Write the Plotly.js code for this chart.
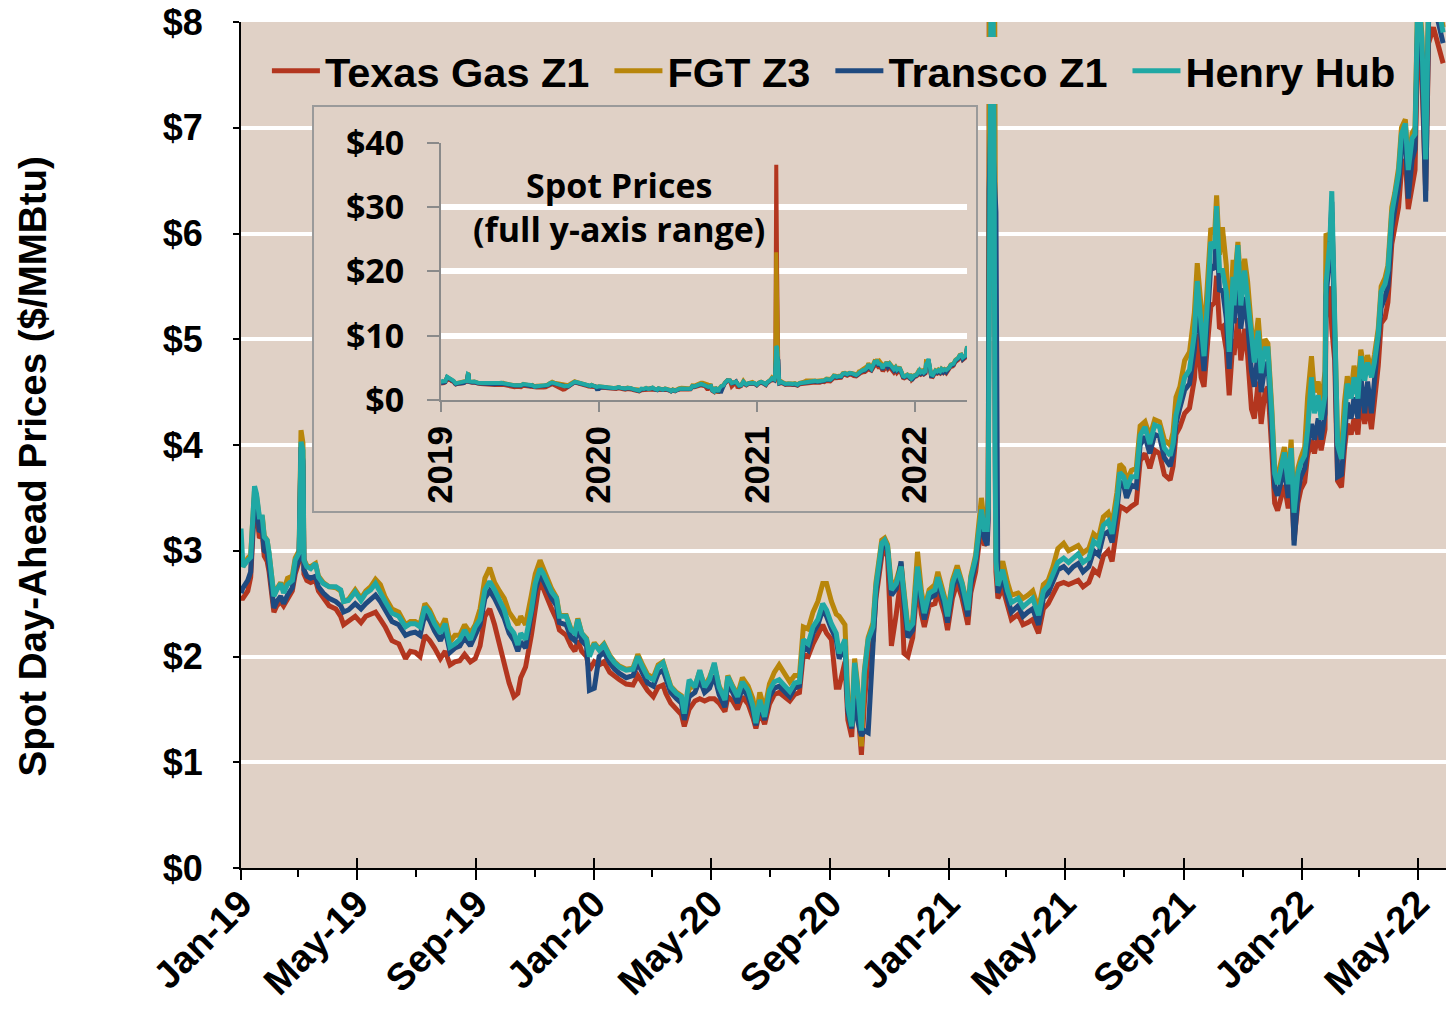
<!DOCTYPE html>
<html><head><meta charset="utf-8">
<script src="https://cdn.plot.ly/plotly-3.0.1.min.js"></script>
<style>html,body{margin:0;padding:0;background:#fff;}#chart{width:1446px;height:1011px;}</style>
</head><body><div id="chart"></div>
<script>
const dates = [
'2019-01-01','2019-01-03','2019-01-08','2019-01-11','2019-01-15','2019-01-17','2019-01-20','2019-01-23','2019-01-25','2019-01-28','2019-01-30',
'2019-02-02','2019-02-04','2019-02-07','2019-02-11','2019-02-14','2019-02-18','2019-02-23','2019-02-26',
'2019-03-02','2019-03-04','2019-03-06','2019-03-07','2019-03-10','2019-03-14','2019-03-19','2019-03-22','2019-03-27',
'2019-04-02','2019-04-09','2019-04-14','2019-04-17','2019-04-22','2019-04-29',
'2019-05-05','2019-05-10','2019-05-15','2019-05-20','2019-05-25','2019-05-30',
'2019-06-06','2019-06-13','2019-06-20','2019-06-25','2019-06-30',
'2019-07-05','2019-07-10','2019-07-15','2019-07-20','2019-07-26','2019-07-31',
'2019-08-05','2019-08-10','2019-08-15','2019-08-20','2019-08-26','2019-08-31',
'2019-09-05','2019-09-10','2019-09-15','2019-09-20','2019-09-25','2019-09-30',
'2019-10-05','2019-10-10','2019-10-14','2019-10-17','2019-10-22','2019-10-28',
'2019-11-01','2019-11-06','2019-11-09','2019-11-13','2019-11-18','2019-11-23','2019-11-26',
'2019-12-03','2019-12-08','2019-12-12','2019-12-15','2019-12-19','2019-12-24','2019-12-27',
'2020-01-01','2020-01-06','2020-01-11','2020-01-17','2020-01-22','2020-01-27',
'2020-02-03','2020-02-10','2020-02-15','2020-02-20','2020-02-25',
'2020-03-02','2020-03-07','2020-03-12','2020-03-15','2020-03-20','2020-03-26','2020-03-31',
'2020-04-03','2020-04-08','2020-04-14','2020-04-19','2020-04-24','2020-04-29',
'2020-05-04','2020-05-09','2020-05-15','2020-05-18','2020-05-23','2020-05-28',
'2020-06-02','2020-06-08','2020-06-13','2020-06-16','2020-06-20','2020-06-25','2020-06-30',
'2020-07-05','2020-07-10','2020-07-16','2020-07-21','2020-07-26','2020-07-31',
'2020-08-04','2020-08-09','2020-08-14','2020-08-19','2020-08-24','2020-08-28',
'2020-09-02','2020-09-07','2020-09-10','2020-09-16','2020-09-19','2020-09-23','2020-09-26','2020-09-29',
'2020-10-03','2020-10-06','2020-10-10','2020-10-15','2020-10-18','2020-10-24','2020-10-27','2020-10-30',
'2020-11-03','2020-11-08','2020-11-13','2020-11-16','2020-11-20','2020-11-25','2020-11-30',
'2020-12-04','2020-12-07','2020-12-12','2020-12-18','2020-12-21','2020-12-25','2020-12-28','2020-12-31',
'2021-01-05','2021-01-10','2021-01-15','2021-01-21','2021-01-24','2021-01-29',
'2021-02-01','2021-02-04','2021-02-07','2021-02-10','2021-02-11','2021-02-12','2021-02-14','2021-02-16','2021-02-17','2021-02-18','2021-02-19','2021-02-21','2021-02-26',
'2021-03-03','2021-03-07','2021-03-14','2021-03-19','2021-03-24','2021-03-29',
'2021-04-04','2021-04-09','2021-04-14','2021-04-19','2021-04-24','2021-04-30',
'2021-05-05','2021-05-10','2021-05-15','2021-05-20','2021-05-26','2021-05-31',
'2021-06-05','2021-06-10','2021-06-15','2021-06-19','2021-06-24','2021-06-27',
'2021-07-01','2021-07-04','2021-07-09','2021-07-14','2021-07-18','2021-07-23','2021-07-28',
'2021-08-02','2021-08-07','2021-08-12','2021-08-18','2021-08-21','2021-08-24','2021-08-28',
'2021-09-02','2021-09-07','2021-09-12','2021-09-15','2021-09-19','2021-09-22','2021-09-26','2021-09-29',
'2021-10-03','2021-10-05','2021-10-08','2021-10-11','2021-10-15','2021-10-18','2021-10-22','2021-10-23','2021-10-27','2021-10-30',
'2021-11-03','2021-11-06','2021-11-10','2021-11-13','2021-11-17','2021-11-20','2021-11-24','2021-11-27',
'2021-12-01','2021-12-04','2021-12-07','2021-12-11','2021-12-14','2021-12-18','2021-12-21','2021-12-24','2021-12-28','2021-12-31',
'2022-01-04','2022-01-07','2022-01-11','2022-01-14','2022-01-18','2022-01-21','2022-01-25','2022-01-26','2022-01-30',
'2022-02-01','2022-02-04','2022-02-07','2022-02-11','2022-02-14','2022-02-17','2022-02-21','2022-02-24','2022-02-28',
'2022-03-03','2022-03-07','2022-03-10','2022-03-14','2022-03-17','2022-03-21','2022-03-24','2022-03-28','2022-03-31',
'2022-04-04','2022-04-07','2022-04-11','2022-04-14','2022-04-18','2022-04-21','2022-04-25','2022-04-28',
'2022-05-01','2022-05-05','2022-05-09','2022-05-12','2022-05-17','2022-05-22','2022-05-27'
];

const henryHub = [
3.21,2.85,2.91,2.94,3.61,3.54,3.32,3.32,3.13,3.10,2.98,
2.72,2.57,2.63,2.69,2.60,2.68,2.72,2.91,
2.98,4.03,3.95,2.91,2.85,2.83,2.88,2.75,2.69,
2.66,2.66,2.63,2.52,2.53,2.61,
2.53,2.60,2.63,2.69,2.60,2.52,
2.41,2.38,2.28,2.31,2.31,
2.28,2.47,2.41,2.31,2.22,2.31,
2.09,2.12,2.16,2.25,2.16,2.28,
2.35,2.63,2.71,2.63,2.53,2.44,
2.28,2.22,2.11,2.22,2.16,2.44,
2.69,2.83,2.79,2.71,2.61,2.55,2.38,
2.38,2.25,2.22,2.35,2.22,2.16,2.00,
2.12,2.06,2.11,2.00,1.94,1.90,
1.87,1.88,2.00,1.90,1.81,
1.78,1.90,1.94,1.84,1.71,1.65,1.62,
1.46,1.78,1.71,1.87,1.71,1.78,
1.94,1.71,1.59,1.81,1.71,1.62,
1.76,1.68,1.53,1.37,1.59,1.43,1.68,
1.76,1.78,1.71,1.67,1.75,1.76,
2.16,2.12,2.28,2.35,2.50,2.44,
2.31,2.22,2.03,2.16,1.53,1.34,1.94,1.71,
1.30,1.84,2.16,2.28,2.66,3.07,3.10,3.04,
2.63,2.69,2.85,2.57,2.25,2.31,2.85,
2.57,2.41,2.60,2.63,2.75,2.63,2.53,2.38,
2.69,2.82,2.69,2.44,2.74,2.93,
3.13,3.39,3.20,3.20,3.40,6.10,8.40,8.20,7.00,4.00,2.90,2.67,2.82,
2.62,2.51,2.55,2.47,2.51,2.55,
2.39,2.62,2.67,2.78,2.89,2.93,
2.89,2.93,2.97,2.89,2.93,3.09,
3.05,3.24,3.28,3.16,3.47,3.74,
3.70,3.59,3.70,3.70,4.09,4.17,4.01,
4.19,4.17,3.97,3.90,4.01,4.28,4.43,
4.64,4.71,5.05,5.55,5.08,4.84,5.42,5.92,
5.86,6.26,5.65,5.65,5.45,4.88,5.59,5.32,5.89,5.32,
5.65,5.38,4.98,4.78,5.08,4.68,4.91,4.91,
4.30,3.73,3.63,3.80,3.93,3.63,3.97,3.36,3.73,3.83,
3.90,4.14,4.64,4.30,4.47,4.24,4.47,5.52,5.92,
6.40,5.32,4.00,3.87,4.24,4.58,4.44,4.64,4.44,
4.84,4.61,4.78,4.64,4.78,5.05,5.45,5.52,5.65,
6.19,6.33,6.57,6.94,7.04,6.60,6.90,6.94,
8.30,7.85,6.70,8.20,8.30,8.15,7.90
];

const texasGasZ1 = [
2.55,2.55,2.62,2.75,3.45,3.38,3.12,3.15,2.95,2.90,2.80,
2.52,2.42,2.48,2.52,2.48,2.55,2.62,2.78,
2.90,3.95,3.80,2.78,2.72,2.70,2.72,2.62,2.55,
2.48,2.45,2.38,2.30,2.33,2.38,
2.32,2.38,2.40,2.42,2.35,2.28,
2.15,2.12,1.98,2.05,2.04,
2.00,2.20,2.15,2.08,1.98,2.05,
1.92,1.95,1.96,2.02,1.95,1.98,
2.10,2.38,2.45,2.30,2.10,1.95,
1.75,1.62,1.65,1.80,1.90,2.20,
2.45,2.75,2.65,2.55,2.45,2.35,2.25,
2.20,2.10,2.05,2.15,2.05,2.00,1.87,
1.95,1.92,1.95,1.85,1.81,1.78,
1.74,1.73,1.82,1.75,1.68,
1.62,1.71,1.73,1.65,1.56,1.49,1.45,
1.34,1.50,1.58,1.60,1.58,1.60,
1.60,1.56,1.48,1.62,1.58,1.50,
1.62,1.55,1.42,1.32,1.48,1.36,1.55,
1.64,1.66,1.62,1.58,1.64,1.66,
2.02,2.00,2.12,2.22,2.30,2.22,
2.16,1.71,1.71,1.95,1.40,1.24,1.80,1.55,
1.07,1.55,2.00,2.15,2.55,2.95,3.00,2.95,
2.10,2.40,2.75,2.03,2.00,2.18,2.70,
2.40,2.28,2.48,2.50,2.62,2.50,2.40,2.25,
2.55,2.70,2.55,2.30,2.60,2.80,
3.00,3.25,3.05,3.10,3.40,7.00,36.60,20.00,7.00,4.40,2.80,2.55,2.65,
2.48,2.35,2.40,2.30,2.32,2.35,
2.22,2.45,2.50,2.60,2.68,2.70,
2.68,2.70,2.72,2.66,2.70,2.82,
2.78,2.95,3.00,2.90,3.20,3.42,
3.40,3.38,3.42,3.45,3.85,3.92,3.78,
3.95,3.92,3.72,3.67,3.80,4.10,4.17,
4.30,4.35,4.62,5.05,4.64,4.55,5.00,5.31,
5.35,5.60,5.10,5.12,4.90,4.47,5.00,4.85,5.20,4.80,
5.10,4.85,4.34,4.25,4.60,4.20,4.50,4.55,
3.95,3.45,3.38,3.50,3.62,3.40,3.70,3.10,3.45,3.58,
3.65,3.90,4.05,3.92,4.10,3.95,4.15,5.20,5.50,
5.10,4.80,3.66,3.60,3.95,4.20,4.10,4.25,4.10,
4.45,4.20,4.40,4.15,4.40,4.75,5.15,5.20,5.35,
5.90,6.05,6.25,6.60,6.70,6.23,6.45,6.60,
7.90,7.50,6.40,7.80,7.95,7.80,7.61
];

const fgtZ3 = [
3.00,2.85,2.93,2.96,3.58,3.52,3.30,3.33,3.14,3.10,2.97,
2.72,2.58,2.64,2.70,2.62,2.74,2.76,2.93,
3.00,4.14,4.02,2.92,2.86,2.85,2.88,2.76,2.70,
2.66,2.65,2.62,2.52,2.54,2.63,
2.55,2.62,2.66,2.73,2.68,2.56,
2.45,2.42,2.30,2.33,2.33,
2.30,2.50,2.44,2.34,2.26,2.36,
2.14,2.20,2.20,2.30,2.22,2.30,
2.45,2.74,2.84,2.70,2.62,2.55,
2.42,2.36,2.30,2.38,2.30,2.58,
2.78,2.91,2.84,2.74,2.64,2.56,2.40,
2.39,2.26,2.23,2.36,2.22,2.17,2.02,
2.13,2.07,2.12,2.01,1.95,1.91,
1.88,1.89,2.02,1.92,1.83,
1.80,1.92,1.95,1.85,1.72,1.66,1.63,
1.42,1.70,1.72,1.86,1.72,1.80,
1.92,1.72,1.60,1.82,1.72,1.64,
1.80,1.72,1.60,1.42,1.66,1.50,1.74,
1.85,1.92,1.84,1.76,1.82,1.82,
2.28,2.26,2.42,2.52,2.69,2.69,
2.52,2.40,2.38,2.30,1.60,1.40,1.98,1.74,
1.15,1.86,2.18,2.32,2.70,3.10,3.12,3.06,
2.66,2.72,2.88,2.60,2.28,2.34,2.99,
2.62,2.45,2.63,2.68,2.80,2.66,2.56,2.40,
2.72,2.86,2.70,2.46,2.76,2.96,
3.20,3.50,3.25,3.30,3.50,6.60,23.00,15.00,6.80,5.50,3.00,2.75,2.90,
2.70,2.58,2.60,2.55,2.58,2.62,
2.45,2.68,2.72,2.85,3.02,3.07,
3.00,3.02,3.05,2.98,3.02,3.16,
3.12,3.32,3.36,3.25,3.55,3.82,
3.78,3.66,3.76,3.78,4.18,4.22,4.08,
4.24,4.22,4.05,4.00,4.12,4.45,4.55,
4.80,4.88,5.25,5.72,5.30,5.00,5.60,6.05,
6.00,6.36,5.80,6.06,5.70,5.05,5.75,5.50,5.92,5.50,
5.76,5.55,5.10,4.90,5.20,4.85,5.00,4.96,
4.35,3.78,3.70,3.85,3.98,3.70,4.05,3.40,3.78,3.88,
3.98,4.45,4.84,4.50,4.60,4.35,4.70,6.00,5.95,
6.20,5.30,4.05,3.95,4.40,4.65,4.50,4.75,4.55,
4.90,4.70,4.85,4.70,4.85,5.10,5.50,5.58,5.70,
6.25,6.38,6.62,7.00,7.08,6.65,6.95,7.00,
8.35,7.90,6.75,8.25,8.35,8.20,7.95
];

const transcoZ1 = [
2.60,2.65,2.72,2.80,3.52,3.45,3.18,3.20,3.00,2.98,2.86,
2.58,2.46,2.52,2.57,2.50,2.58,2.65,2.82,
2.92,3.98,3.85,2.82,2.76,2.74,2.76,2.66,2.60,
2.55,2.52,2.48,2.42,2.44,2.50,
2.45,2.50,2.54,2.58,2.52,2.44,
2.33,2.30,2.20,2.22,2.23,
2.20,2.40,2.34,2.24,2.15,2.25,
2.04,2.08,2.10,2.18,2.10,2.20,
2.30,2.55,2.62,2.55,2.45,2.36,
2.22,2.15,2.05,2.14,2.08,2.38,
2.62,2.78,2.72,2.64,2.55,2.48,2.32,
2.30,2.18,2.15,2.28,2.15,2.10,1.68,
1.70,2.00,2.04,1.94,1.88,1.84,
1.80,1.82,1.94,1.84,1.75,
1.72,1.84,1.87,1.78,1.66,1.60,1.56,
1.40,1.62,1.66,1.78,1.66,1.70,
1.82,1.64,1.52,1.74,1.66,1.56,
1.70,1.62,1.48,1.35,1.54,1.40,1.62,
1.70,1.72,1.66,1.62,1.70,1.72,
2.10,2.06,2.22,2.30,2.44,2.38,
2.26,2.16,1.98,2.10,1.48,1.32,1.60,1.40,
1.25,1.30,1.28,2.20,2.60,3.02,3.06,3.00,
2.58,2.64,2.90,2.50,2.18,2.25,2.80,
2.50,2.35,2.55,2.58,2.70,2.57,2.47,2.32,
2.64,2.78,2.62,2.38,2.68,2.88,
3.08,3.32,3.12,3.05,3.30,6.40,7.20,6.80,6.40,6.40,6.20,2.60,2.75,
2.55,2.42,2.48,2.38,2.42,2.45,
2.30,2.55,2.60,2.72,2.82,2.85,
2.80,2.85,2.88,2.80,2.85,3.00,
2.96,3.15,3.18,3.08,3.38,3.65,
3.62,3.50,3.62,3.60,4.00,4.08,3.92,
4.10,4.08,3.88,3.80,3.92,4.20,4.35,
4.52,4.58,4.90,5.38,4.92,4.70,5.25,5.70,
5.66,6.05,5.45,5.48,5.20,4.72,5.35,5.15,5.60,5.10,
5.40,5.15,4.70,4.55,4.90,4.50,4.75,4.78,
4.15,3.60,3.52,3.65,3.78,3.50,3.85,3.05,3.55,3.70,
3.78,4.00,4.20,4.05,4.25,4.05,4.30,5.40,5.80,
6.30,5.10,3.70,3.72,4.10,4.40,4.25,4.45,4.25,
4.65,4.30,4.60,4.30,4.60,4.90,5.30,5.40,5.50,
6.05,6.20,6.45,6.80,6.90,6.33,6.70,6.80,
8.10,7.70,6.30,8.00,8.10,8.00,7.80
];

const seriesNames = ['Texas Gas Z1','FGT Z3','Transco Z1','Henry Hub'];
const seriesColors = ['#B3361F','#B8860B','#1F4A80','#20A8A4'];

const mainTickDates = ['2019-01-01','2019-05-01','2019-09-01','2020-01-01','2020-05-01','2020-09-01','2021-01-01','2021-05-01','2021-09-01','2022-01-01','2022-05-01'];
const mainTickLabels = ['Jan-19','May-19','Sep-19','Jan-20','May-20','Sep-20','Jan-21','May-21','Sep-21','Jan-22','May-22'];
const minorTickDates = ['2019-03-01','2019-07-01','2019-11-01','2020-03-01','2020-07-01','2020-11-01','2021-03-01','2021-07-01','2021-11-01','2022-03-01'];
const yTickVals = [0,1,2,3,4,5,6,7,8];
const yTickLabels = ['$0','$1','$2','$3','$4','$5','$6','$7','$8'];
const insetXTickDates = ['2019-01-01','2020-01-01','2021-01-01','2022-01-01'];
const insetXTickLabels = ['2019','2020','2021','2022'];
const insetYTickVals = [0,10,20,30,40];
const insetYTickLabels = ['$0','$10','$20','$30','$40'];

const seriesValues = [texasGasZ1, fgtZ3, transcoZ1, henryHub];
const BG = '#E0D1C6';
const ARIAL = 'Liberation Sans, Arial, sans-serif';
const INSETF = 'Open Sans, sans-serif';

const traces = [];
seriesValues.forEach((vals, i) => {
  traces.push({type:'scatter', mode:'lines', x:dates, y:vals,
    name: seriesNames[i] + (i < seriesNames.length - 1 ? '\u00a0\u200a' : ''),
    line:{color:seriesColors[i], width:5}, xaxis:'x', yaxis:'y', hoverinfo:'skip'});
});
traces.push({type:'scatter', mode:'lines', x:[], y:[], xaxis:'x2', yaxis:'y2', showlegend:false, hoverinfo:'skip'});
seriesValues.forEach((vals, i) => {
  traces.push({type:'scatter', mode:'lines', x:dates, y:vals, name:seriesNames[i], showlegend:false,
    line:{color:seriesColors[i], width:4}, xaxis:'x3', yaxis:'y3', hoverinfo:'skip'});
});
traces.push({type:'scatter', mode:'lines', x:[], y:[], xaxis:'x4', yaxis:'y', showlegend:false, hoverinfo:'skip'});

const layout = {
  width:1446, height:1011,
  paper_bgcolor:'#ffffff', plot_bgcolor:BG,
  margin:{l:241, r:0, t:22, b:143, pad:0},
  hovermode:false,
  showlegend:true,
  legend:{orientation:'h', x:0.0215, y:0.982, xanchor:'left', yanchor:'top', bgcolor:BG, borderwidth:0,
    font:{family:ARIAL, size:41.5, color:'#000', weight:'bold'}, itemwidth:48, traceorder:'normal', tracegroupgap:0},
  xaxis:{type:'date', range:['2019-01-01','2022-05-30'], tickmode:'array', tickvals:mainTickDates, ticktext:mainTickLabels,
    tickangle:-45, tickfont:{family:ARIAL, size:38, color:'#000', weight:'bold'},
    ticks:'outside', ticklen:10, tickwidth:2, tickcolor:'#000', showline:true, linecolor:'#000', linewidth:2,
    showgrid:false, zeroline:false, fixedrange:true, ticklabelstandoff:-14,
    minor:{tickmode:'array', tickvals:minorTickDates, ticks:'outside', ticklen:7, tickwidth:2, tickcolor:'#000', showgrid:false}},
  xaxis4:{type:'date', overlaying:'x', anchor:'y', side:'bottom', range:['2019-01-01','2022-05-30'],
    tickmode:'array', tickvals:mainTickDates, ticks:'inside', ticklen:10, tickwidth:2, tickcolor:'#000',
    showticklabels:false, showgrid:false, zeroline:false, showline:false},
  yaxis:{range:[0,8], tickmode:'array', tickvals:yTickVals, ticktext:yTickLabels,
    tickfont:{family:ARIAL, size:36, color:'#000', weight:'bold'},
    ticks:'outside', ticklen:6, tickwidth:2, tickcolor:'#000', showline:true, linecolor:'#000', linewidth:2,
    showgrid:true, gridcolor:'#ffffff', gridwidth:4, zeroline:false, ticklabelstandoff:23, fixedrange:true},
  xaxis2:{domain:[0.0606,0.6100], anchor:'y2', range:[0,1], showline:true, mirror:true, linecolor:'#9a9a9a', linewidth:2,
    showgrid:false, zeroline:false, showticklabels:false, ticks:''},
  yaxis2:{domain:[0.4220,0.8995], anchor:'x2', range:[0,1], showline:true, mirror:true, linecolor:'#9a9a9a', linewidth:2,
    showgrid:false, zeroline:false, showticklabels:false, ticks:''},
  xaxis3:{domain:[0.166,0.6025], anchor:'y3', type:'date', range:['2019-01-01','2022-05-01'],
    tickmode:'array', tickvals:insetXTickDates, ticktext:insetXTickLabels, tickangle:-90,
    tickfont:{family:ARIAL, size:35, color:'#000', weight:'bold'},
    ticks:'outside', ticklen:10, tickwidth:2, tickcolor:'#8a8a8a', showline:true, linecolor:'#8a8a8a', linewidth:2,
    showgrid:false, zeroline:false, ticklabelstandoff:0},
  yaxis3:{domain:[0.5532,0.8570], anchor:'x3', range:[0,40], tickmode:'array', tickvals:insetYTickVals, ticktext:insetYTickLabels,
    tickfont:{family:INSETF, size:34, color:'#000', weight:'bold'},
    ticks:'outside', ticklen:12, tickwidth:2, tickcolor:'#8a8a8a', showline:true, linecolor:'#8a8a8a', linewidth:2,
    showgrid:true, gridcolor:'#ffffff', gridwidth:6, zeroline:false, ticklabelstandoff:16},
  annotations:[
    {text:'Spot Day-Ahead Prices ($/MMBtu)', xref:'paper', yref:'paper', x:-0.173, y:0.474, textangle:-90,
     showarrow:false, xanchor:'center', yanchor:'middle', font:{family:ARIAL, size:38.5, color:'#000', weight:'bold'}},
    {text:'Spot Prices<br>(full y-axis range)', xref:'paper', yref:'paper', x:0.3137, y:0.7815,
     showarrow:false, xanchor:'center', yanchor:'middle', align:'center', font:{family:INSETF, size:34, color:'#000', weight:'bold'}}
  ]
};

Plotly.newPlot('chart', traces, layout, {staticPlot:true, displayModeBar:false});
</script>
</body></html>
